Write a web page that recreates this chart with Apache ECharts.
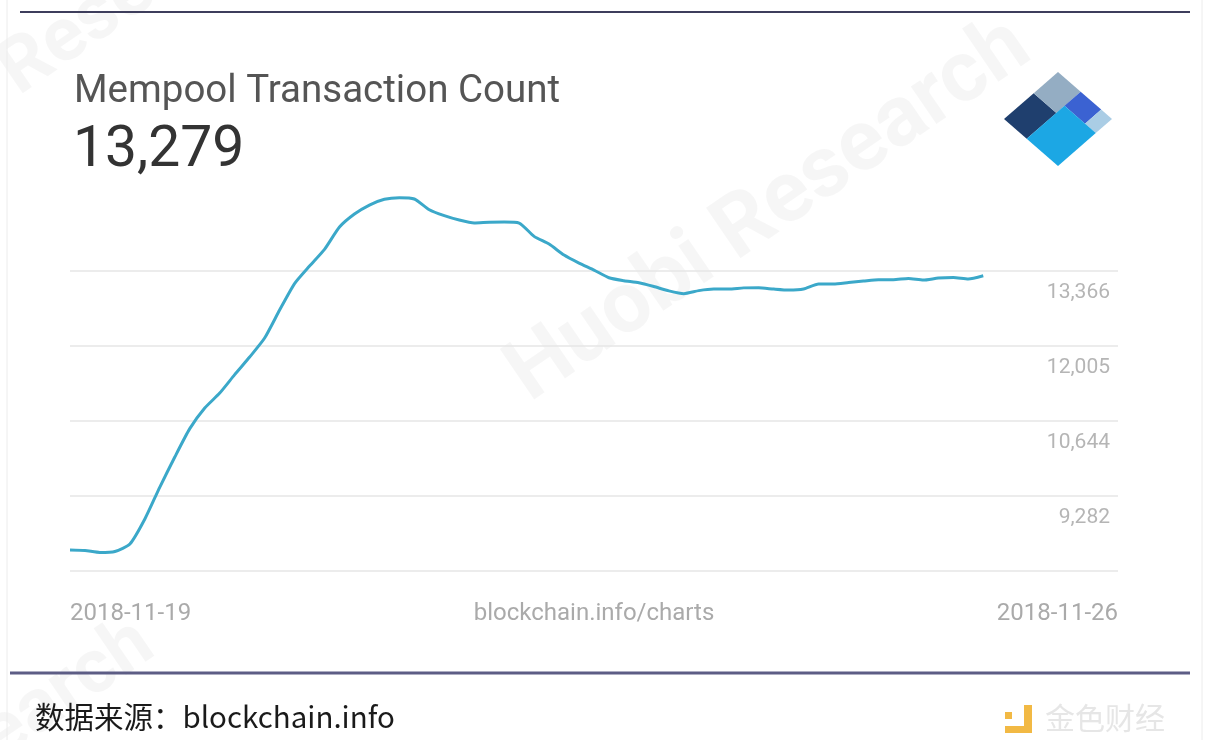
<!DOCTYPE html>
<html>
<head>
<meta charset="utf-8">
<title>Mempool Transaction Count</title>
<script src="https://cdn.jsdelivr.net/npm/echarts@6/dist/echarts.min.js"></script>
<style>
  html, body { margin: 0; padding: 0; background: #fff; }
  #chart { width: 1208px; height: 740px; }
</style>
</head>
<body>
<div id="chart"></div>
<script>
// 数据：内存池交易数（2018-11-19 ~ 2018-11-26）
const titleText = 'Mempool Transaction Count'
const currentValue = '13,279'
const xTickLabels = ['2018-11-19', '2018-11-26']
const xAxisName = 'blockchain.info/charts'
const yTickLabels = ['', '9,282', '10,644', '12,005', '13,366', '']
const yMin = 7921.1
const yStep = 1361.3
const mempoolCount = [
  8302, 8293, 8257, 8275, 8411, 8865, 9445, 9990, 10505, 10879,
  11151, 11485, 11804, 12149, 12657, 13138, 13456, 13759, 14164, 14400,
  14563, 14668, 14697, 14673, 14478, 14371, 14291, 14238, 14251, 14254,
  14236, 13995, 13855, 13655, 13510, 13383, 13244, 13191, 13153, 13084,
  13006, 12955, 13010, 13038, 13038, 13060, 13062, 13038, 13020, 13038,
  13129, 13129, 13156, 13183, 13209, 13209, 13229, 13202, 13238, 13247,
  13220, 13279
]
const sourceText = '数据来源：blockchain.info'

const chart = echarts.init(document.getElementById('chart'))

// blockchain 图标（旋转的方块）
const L = [1004, 119], T = [1058, 72], B = [1058, 166]
const pt = (s, t) => [L[0] + s * (T[0] - L[0]) + t * (B[0] - L[0]), L[1] + s * (T[1] - L[1]) + t * (B[1] - L[1])]
const block = (s0, s1, t0, t1, fill) => ({
  type: 'polygon',
  shape: { points: [pt(s0, t0), pt(s1, t0), pt(s1, t1), pt(s0, t1)] },
  style: { fill: fill }
})

const option = {
  backgroundColor: '#fff',
  animation: false,
  title: [
    {
      text: titleText,
      left: 69,
      top: 68,
      textStyle: { fontFamily: 'Roboto', fontSize: 38.5, fontWeight: 'normal', color: '#555' }
    },
    {
      text: currentValue,
      left: 68,
      top: 118,
      textStyle: { fontFamily: 'Roboto', fontSize: 57, fontWeight: 'normal', color: '#333' }
    }
  ],
  grid: {
    left: 70,
    right: 90,
    top: 196,
    bottom: 169
  },
  xAxis: {
    type: 'value',
    min: 0,
    max: 70,
    interval: 70,
    axisLine: { show: false },
    axisTick: { show: false },
    splitLine: { show: false },
    axisLabel: {
      margin: 31,
      fontFamily: 'Roboto',
      fontSize: 24,
      color: '#aaa',
      alignMinLabel: 'left',
      alignMaxLabel: 'right',
      formatter: function (v) {
        if (v === 0) return xTickLabels[0]
        if (v === 70) return xTickLabels[1]
        return ''
      }
    },
    name: xAxisName,
    nameLocation: 'middle',
    nameGap: 31,
    nameMoveOverlap: false,
    nameTextStyle: { fontFamily: 'Roboto', fontSize: 24, color: '#aaa', verticalAlign: 'top' }
  },
  yAxis: {
    type: 'value',
    position: 'right',
    min: yMin,
    max: yMin + 5 * yStep,
    interval: yStep,
    axisLine: { show: false },
    axisTick: { show: false },
    splitLine: {
      show: true,
      showMaxLine: false,
      lineStyle: { color: '#e6e6e6', width: 1.5 }
    },
    axisLabel: {
      inside: true,
      margin: 8,
      fontFamily: 'Roboto',
      fontSize: 21,
      color: '#b5b5b5',
      verticalAlign: 'top',
      padding: [11, 0, 0, 0],
      formatter: function (v) {
        const idx = Math.round((v - yMin) / yStep)
        return yTickLabels[idx] || ''
      }
    }
  },
  series: [
    {
      name: titleText,
      type: 'line',
      data: mempoolCount.map((v, i) => [i, v]),
      showSymbol: false,
      smooth: 0.2,
      lineStyle: { color: '#3ba8c9', width: 3 },
      z: 5
    }
  ],
  graphic: [
    // 水印
    {
      type: 'text', x: 770, y: 212, rotation: 0.6, z: -1,
      style: { text: 'Huobi Research', font: 'bold 86px Roboto', fill: 'rgba(0,0,0,0.035)', align: 'center', verticalAlign: 'middle' }
    },
    {
      type: 'text', x: 140, y: -10, rotation: 0.6, z: -1,
      style: { text: 'Research', font: 'bold 76px Roboto', fill: 'rgba(0,0,0,0.035)', align: 'center', verticalAlign: 'middle' }
    },
    {
      type: 'text', x: 15, y: 728, rotation: 0.6, z: -1,
      style: { text: 'Research', font: 'bold 76px Roboto', fill: 'rgba(0,0,0,0.035)', align: 'center', verticalAlign: 'middle' }
    },
    // 边框线
    { type: 'line', shape: { x1: 7, y1: 0, x2: 7, y2: 740 }, style: { stroke: '#ececec', lineWidth: 1 } },
    { type: 'line', shape: { x1: 1202, y1: 0, x2: 1202, y2: 740 }, style: { stroke: '#ececec', lineWidth: 1 } },
    { type: 'line', shape: { x1: 20, y1: 12, x2: 1190, y2: 12 }, style: { stroke: '#3e3e5c', lineWidth: 2 } },
    { type: 'line', shape: { x1: 10, y1: 673, x2: 1190, y2: 673 }, style: { stroke: '#5d5d85', lineWidth: 3 } },
    // 图标
    block(0, 0.55, 0, 0.42, '#1f3f6e'),
    block(0.55, 1, 0, 0.42, '#94adc3'),
    block(0.7, 1, 0.42, 0.8, '#3b62d2'),
    block(0.7, 1, 0.8, 1, '#aacde5'),
    block(0, 0.7, 0.42, 1, '#1ca7e4'),
    // 底部文字
    {
      type: 'text', left: 35, top: 702,
      style: { text: sourceText, font: '29.5px "Noto Sans CJK SC"', fill: '#1a1a1a' }
    },
    { type: 'rect', shape: { x: 1024, y: 705, width: 8, height: 28 }, style: { fill: '#f2b944' } },
    { type: 'rect', shape: { x: 1005, y: 726, width: 27, height: 7 }, style: { fill: '#f2b944' } },
    { type: 'rect', shape: { x: 1005, y: 712, width: 7, height: 7 }, style: { fill: '#f2b944' } },
    {
      type: 'text', left: 1045, top: 703,
      style: { text: '金色财经', font: '30px "Noto Sans CJK SC"', fill: '#e6e6e6' }
    }
  ]
}

chart.setOption(option)
</script>
</body>
</html>
